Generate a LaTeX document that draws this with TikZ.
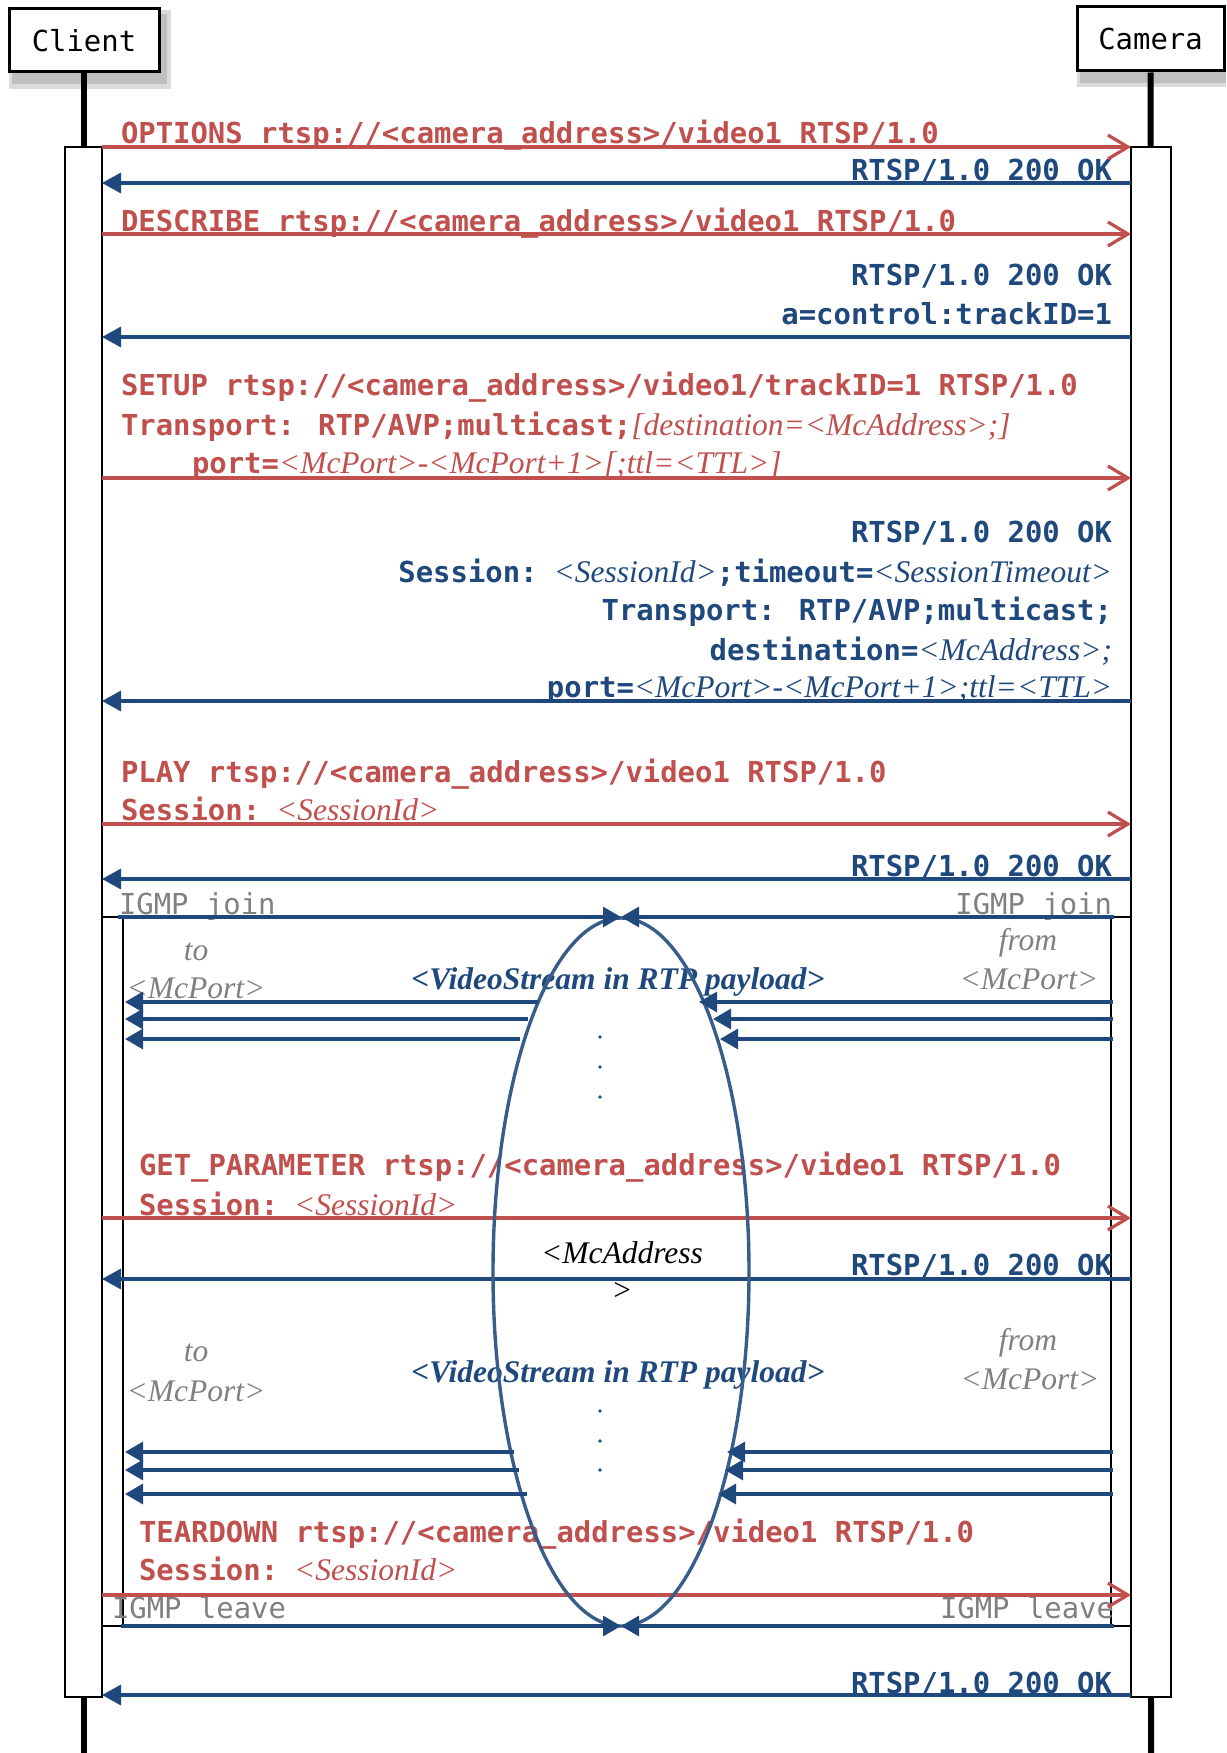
\documentclass[tikz,border=0pt]{standalone}
\usepackage{fontspec}
\setmainfont{Liberation Serif}
\newfontfamily\monof{DejaVu Sans Mono}
\usetikzlibrary{arrows.meta}
\definecolor{cred}{RGB}{192,80,77}
\definecolor{cblue}{RGB}{31,73,125}
\definecolor{cell}{RGB}{56,93,138}
\definecolor{cgray}{RGB}{128,128,128}
\newcommand\pit[1]{{\normalfont\itshape\fontsize{31.5}{39}\selectfont #1}}
\newcommand\gapsp{\hspace{16pt}}
\begin{document}
\begin{tikzpicture}[x=1pt,y=-1pt,
  msg/.style={inner sep=0pt, outer sep=0pt, font=\monof\bfseries\fontsize{28.9}{39}\selectfont},
  reqtxt/.style={msg, text=cred, anchor=base west},
  restxt/.style={msg, text=cblue, anchor=base east},
  igmp/.style={inner sep=0pt, outer sep=0pt, font=\monof\fontsize{28.9}{39}\selectfont, text=cgray},
  note/.style={inner sep=0pt, outer sep=0pt, font=\itshape\fontsize{31.5}{39}\selectfont, text=cgray, anchor=base},
  vs/.style={inner sep=0pt, outer sep=0pt, font=\bfseries\itshape\fontsize{31.5}{39}\selectfont, text=cblue, anchor=base},
  mcx/.style={inner sep=0pt, outer sep=0pt, font=\itshape\fontsize{31.5}{39}\selectfont, text=black, anchor=base},
  req/.style={draw=cred, line width=3.2pt, -{Straight Barb[length=20pt,width=24pt]}},
  res/.style={draw=cblue, line width=3.4pt, -{Triangle[length=19pt,width=20pt]}},
  strm/.style={draw=cblue, line width=3.2pt, -{Triangle[length=18pt,width=20pt]}},
  actbar/.style={draw=black, line width=2.8pt, fill=white},
  life/.style={draw=black, line width=6pt},
  actor/.style={draw=black, line width=3pt, fill=white, inner sep=0pt, font=\monof\fontsize{28.9}{34}\selectfont},
  shadowA/.style={fill=gray!28},
  shadowB/.style={fill=gray!50}
]
\useasboundingbox (0,0) rectangle (1226,1753);

% lifeline end points and bar edges
\coordinate (cEnd) at (84,1753);
\coordinate (kEnd) at (1151,1753);
\coordinate (L) at (102,0);
\coordinate (R) at (1131,0);
\coordinate (Lt) at (125,0);
\coordinate (Rt) at (1113,0);
\coordinate (Mid) at (621,0);

% shadows
\fill[shadowA] (9,10) rectangle (171,89);
\fill[shadowB] (12,14) rectangle (167,84);
\fill[shadowA] (1077,9) rectangle (1226,87);
\fill[shadowB] (1080,12) rectangle (1226,83);

% actors
\node[actor, minimum width=150pt, minimum height=63pt] (client) at (84,40.5) {Client};
\node[actor, minimum width=147pt, minimum height=64pt] (camera) at (1150.5,39) {Camera};

% lifelines
\draw[life] (client.south) -- (cEnd);
\draw[life] (camera.south) -- (kEnd);

% activation bars
\draw[actbar] (65,147) rectangle (102,1697);
\draw[actbar] (1131,147) rectangle (1171,1697);
\draw[actbar] (102,917) rectangle (123,1626);
\draw[actbar] (1111,917) rectangle (1131,1626);

% texts
\node[reqtxt] (t1) at (121,143) {OPTIONS rtsp://<camera\_address>/video1 RTSP/1.0};
\node[restxt] (t2) at (1112,180) {RTSP/1.0 200 OK};
\node[reqtxt] (t3) at (121,231) {DESCRIBE rtsp://<camera\_address>/video1 RTSP/1.0};
\node[restxt] (t4a) at (1112,285) {RTSP/1.0 200 OK};
\node[restxt] (t4b) at (1112,324) {a=control:trackID=1};
\node[reqtxt] (t5a) at (121,395) {SETUP rtsp://<camera\_address>/video1/trackID=1 RTSP/1.0};
\node[reqtxt] (t5b) at (121,435) {Transport: RTP/AVP;multicast;\pit{[destination=<McAddress>;]}};
\node[reqtxt] (t5c) at (192,473) {port=\pit{<McPort>-<McPort+1>[;ttl=<TTL>]}};
\node[restxt] (t6a) at (1112,542) {RTSP/1.0 200 OK};
\node[restxt] (t6b) at (1112,582) {Session:\gapsp\pit{<SessionId>};timeout=\pit{<SessionTimeout>}};
\node[restxt] (t6c) at (1112,620) {Transport: RTP/AVP;multicast;};
\node[restxt] (t6d) at (1112,660) {destination=\pit{<McAddress>;}};
\node[restxt] (t6e) at (1112,697) {port=\pit{<McPort>-<McPort+1>;ttl=<TTL>}};
\node[reqtxt] (t7a) at (121,782) {PLAY rtsp://<camera\_address>/video1 RTSP/1.0};
\node[reqtxt] (t7b) at (121,820) {Session:\gapsp\pit{<SessionId>}};
\node[restxt] (t8) at (1112,876) {RTSP/1.0 200 OK};
\node[igmp, anchor=base west] (g1) at (119,914) {IGMP join};
\node[igmp, anchor=base east] (g2) at (1112,914) {IGMP join};
\node[note] (n1) at (196,960) {to};
\node[note] (n2) at (196,998) {<McPort>};
\node[note] (n3) at (1028,950) {from};
\node[note] (n4) at (1029,989) {<McPort>};
\node[vs] (v1) at (618,989) {<VideoStream in RTP payload>};
\node[reqtxt] (t9a) at (139,1175) {GET\_PARAMETER rtsp://<camera\_address>/video1 RTSP/1.0};
\node[reqtxt] (t9b) at (139,1215) {Session:\gapsp\pit{<SessionId>}};
\node[restxt] (t10) at (1112,1275) {RTSP/1.0 200 OK};
\node[mcx] (mc1) at (622,1263) {<McAddress};
\node[mcx] (mc2) at (622,1300) {>};
\node[note] (n5) at (196,1361) {to};
\node[note] (n6) at (196,1401) {<McPort>};
\node[note] (n7) at (1028,1350) {from};
\node[note] (n8) at (1030,1389) {<McPort>};
\node[vs] (v2) at (618,1382) {<VideoStream in RTP payload>};
\node[reqtxt] (t11a) at (139,1542) {TEARDOWN rtsp://<camera\_address>/video1 RTSP/1.0};
\node[reqtxt] (t11b) at (139,1580) {Session:\gapsp\pit{<SessionId>}};
\node[igmp, anchor=base west] (g3) at (112,1618) {IGMP leave};
\node[igmp, anchor=base east] (g4) at (1114,1618) {IGMP leave};
\node[restxt] (t12) at (1112,1693) {RTSP/1.0 200 OK};

% requests
\draw[req] (L |- 0,147) -- (R |- 0,147);
\draw[req] (L |- 0,234) -- (R |- 0,234);
\draw[req] (L |- 0,478) -- (R |- 0,478);
\draw[req] (L |- 0,824) -- (R |- 0,824);
\draw[req] (L |- 0,1218) -- (R |- 0,1218);
\draw[req] (L |- 0,1595) -- (R |- 0,1595);
% responses
\draw[res] (R |- 0,183) -- (L |- 0,183);
\draw[res] (R |- 0,337) -- (L |- 0,337);
\draw[res] (R |- 0,701) -- (L |- 0,701);
\draw[res] (R |- 0,879) -- (L |- 0,879);
\draw[res] (R |- 0,1279) -- (L |- 0,1279);
\draw[res] (R |- 0,1695) -- (L |- 0,1695);

% ellipse
\draw[draw=cell, line width=3.4pt] (621,1272) ellipse [x radius=128pt, y radius=354pt];

% streams
\draw[strm] (538,1002) -- (Lt |- 0,1002);
\draw[strm] (528,1019) -- (Lt |- 0,1019);
\draw[strm] (520,1039) -- (Lt |- 0,1039);
\draw[strm] (Rt |- 0,1002) -- (699,1002);
\draw[strm] (Rt |- 0,1019) -- (713,1019);
\draw[strm] (Rt |- 0,1039) -- (720,1039);
\draw[strm] (514,1452) -- (Lt |- 0,1452);
\draw[strm] (519,1470) -- (Lt |- 0,1470);
\draw[strm] (527,1494) -- (Lt |- 0,1494);
\draw[strm] (Rt |- 0,1452) -- (727,1452);
\draw[strm] (Rt |- 0,1470) -- (725,1470);
\draw[strm] (Rt |- 0,1494) -- (718,1494);

% IGMP arrows
\draw[strm] (118,917) -- (Mid |- 0,917);
\draw[strm] (1114,917) -- (Mid |- 0,917);
\draw[strm] (121,1626) -- (Mid |- 0,1626);
\draw[strm] (1114,1626) -- (Mid |- 0,1626);

% dots
\foreach \yy in {1037,1067,1097,1411,1441,1470}
  \fill[cblue] (600,\yy) circle (1.8pt);
\end{tikzpicture}
\end{document}
